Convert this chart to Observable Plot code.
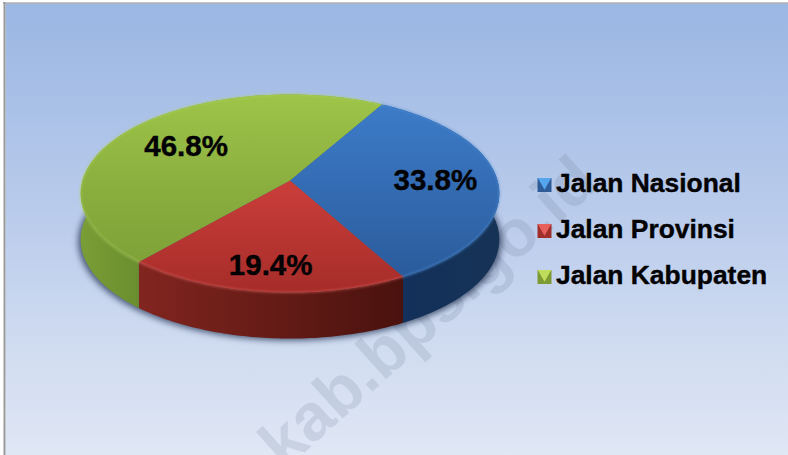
<!DOCTYPE html>
<html><head><meta charset="utf-8">
<style>html,body{margin:0;padding:0;background:#fff}svg{display:block}</style>
<script src="https://cdn.jsdelivr.net/npm/d3@7"></script>
<script src="https://cdn.jsdelivr.net/npm/@observablehq/plot@0.6"></script>
</head><body><div id="chart"></div>
<script>
const categories = ["Jalan Nasional", "Jalan Provinsi", "Jalan Kabupaten"];
const shares = [33.8, 19.4, 46.8];
const watermark = "kab.bps.go.id";

// Layout of the tilted pie (perspective view of a circle)
const W = 788, H = 455, FONT = "'Liberation Sans', Arial, sans-serif";
const CX = 289.5, CY = 180, R = 207.5, TILT = 0.1313, YK = 73.7, DEPTH = 46, START = 29.5;
const labelRadius = [0.70, 0.787, 0.643];
const legendRows = [184.5, 230.5, 276.5];
const gradIds = ["blue", "red", "green"];
const lightTri = ["#55a6ee", "#e8605c", "#bfdc5a"];
const swatch = ["#2d5c98", "#a02f2b", "#7d9a35"];
const rim = ["#4f8fd8", "#e0605a", "#b0d45c"];

function project(deg, r = 1) {
  const t = deg * Math.PI / 180, u = r * Math.sin(t), v = -r * Math.cos(t), w = 1 - TILT * v;
  return {x: CX + R * u / w, y: (YK * v + CY) / w};
}
const arcs = d3.pairs(d3.cumsum([0, ...shares]).map(c => START + c * 3.6));
const arcPts = ([a, b]) => d3.range(a, b, 1).concat(b).map(d => project(d));

const tops = [], walls = [], rims = [];
arcs.forEach((arc, i) => {
  const pts = arcPts(arc);
  [{x: CX, y: CY}, ...pts].forEach(p => tops.push({...p, slice: i}));
  pts.forEach(p => walls.push({...p, slice: i}));
  pts.slice().reverse().forEach(p => walls.push({x: p.x, y: p.y + DEPTH, slice: i}));
  pts.forEach(p => rims.push({...p, slice: i}));
});
const shadow = d3.range(0, 361, 2).map(d => { const p = project(d); return {x: CX + (p.x - CX) * 1.012, y: p.y + DEPTH + 2}; });
const labels = shares.map((s, i) => {
  const p = project((arcs[i][0] + arcs[i][1]) / 2, labelRadius[i]);
  return {...p, text: s.toFixed(1) + "%"};
});
const legend = categories.map((name, i) => ({name, y: legendRows[i], i}));

const defs = () => {
  const grad = (id, x1, y1, x2, y2, stops) =>
    `<linearGradient id="${id}" gradientUnits="userSpaceOnUse" x1="${x1}" y1="${y1}" x2="${x2}" y2="${y2}">` +
    stops.map(([o, c]) => `<stop offset="${o}" stop-color="${c}"/>`).join("") + `</linearGradient>`;
  return d3.create("svg:defs").html(
    grad("bg", 0, 0, 0, H, [[0, "#9ab6e3"], [0.5, "#bccdec"], [0.75, "#cfdbf0"], [1, "#e0e7f5"]]) +
    grad("top-blue", 0, 100, 0, 280, [[0, "#3d7cc9"], [1, "#2a5b9b"]]) +
    grad("top-red", 0, 180, 0, 295, [[0, "#cb3e3a"], [1, "#a52c29"]]) +
    grad("top-green", 0, 95, 0, 265, [[0, "#9ec449"], [0.55, "#8aae3e"], [1, "#7fa138"]]) +
    grad("wall-blue", 400, 0, 497, 0, [[0, "#12305a"], [1, "#163356"]]) +
    grad("wall-red", 137, 0, 400, 0, [[0, "#82251f"], [1, "#4a120e"]]) +
    grad("wall-green", 80, 0, 137, 0, [[0, "#7b9d36"], [1, "#6b8f2f"]])
  ).node();
};

const plot = Plot.plot({
  width: W, height: H, margin: 0,
  x: {domain: [0, W], range: [0, W], axis: null},
  y: {domain: [0, H], range: [0, H], axis: null},
  style: {background: "#fff"},
  marks: [
    defs,
    Plot.frame({fill: "url(#bg)", stroke: "none", insetLeft: 5, insetTop: 3}),
    Plot.ruleY([2.5], {x1: 3, x2: W, stroke: "#8a8a8a", strokeWidth: 1}),
    Plot.ruleX([4], {y1: 2, y2: H, stroke: "#9a9a9a", strokeWidth: 2}),
    Plot.text([watermark], {x: 428, y: 312, text: d => d, rotate: -42, fill: "#606f8a", fillOpacity: 0.17, fontSize: 66, fontWeight: "bold", fontFamily: FONT}),
    Plot.line(shadow, {x: "x", y: "y", fill: "#203050", fillOpacity: 0.75, stroke: "none", imageFilter: "blur(3px)"}),
    ...arcs.map((_, i) => Plot.line(walls.filter(d => d.slice === i), {x: "x", y: "y", fill: `url(#wall-${gradIds[i]})`, stroke: "none"})),
    ...arcs.map((_, i) => Plot.line(tops.filter(d => d.slice === i), {x: "x", y: "y", fill: `url(#top-${gradIds[i]})`, stroke: "none"})),
    ...arcs.map((_, i) => Plot.line(rims.filter(d => d.slice === i), {x: "x", y: "y", stroke: rim[i], strokeWidth: 2, strokeOpacity: 0.5, imageFilter: "blur(1px)"})),
    Plot.text(labels, {x: "x", y: "y", text: "text", fill: "#000", stroke: "#000", strokeWidth: 0.4, fontSize: 29.5, fontWeight: "bold", fontFamily: FONT}),
    Plot.dot(legend, {x: 544, y: "y", symbol: "square", r: 7.9, fill: d => swatch[d.i], stroke: "none"}),
    Plot.dot(legend, {x: 544, y: "y", dy: -3, symbol: "triangle", r: 5, rotate: 180, fill: d => lightTri[d.i], stroke: "none"}),
    Plot.text(legend, {x: 555.5, y: "y", dy: -1, text: "name", textAnchor: "start", fill: "#000", stroke: "#000", strokeWidth: 0.4, fontSize: 26.4, fontWeight: "bold", fontFamily: FONT})
  ]
});
document.getElementById("chart").append(plot);
</script></body></html>
